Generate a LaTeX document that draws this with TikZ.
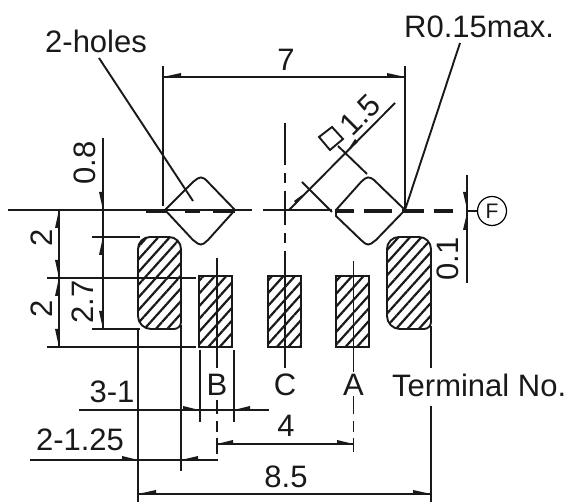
\documentclass[tikz,border=0pt]{standalone}
\usepackage{fontspec}
\setmainfont{Liberation Sans}
\usetikzlibrary{patterns.meta}
\tikzset{
 ln/.style={line width=1.9pt,black!90},
 datum/.style={line width=3.2pt,black!90},
 wedge/.style={fill=black!90,draw=none},
 padshape/.style={line width=1.9pt,black!90,pattern={Lines[angle=48,distance=8.5pt,line width=2.2pt]},pattern color=black!90},
 lab/.style={inner sep=0pt,font=\fontsize{31}{31}\selectfont,text=black!90},
 cen/.style={line width=1.9pt,black!90}
}
\begin{document}
\begin{tikzpicture}[x=1pt,y=-1pt]
\useasboundingbox (0,0) rectangle (574,502);
% pads
\draw[padshape] (138,300) [rounded corners=12pt] -- (138,237) -- (181,237) [rounded corners=7pt] -- (181,329) [rounded corners=13pt] -- (138,329) [sharp corners] -- cycle;
\draw[padshape] (387,300) [rounded corners=12pt] -- (387,237) -- (431,237) [rounded corners=7pt] -- (431,329) [rounded corners=13pt] -- (387,329) [sharp corners] -- cycle;
\draw[padshape] (199,276) rectangle (232,347);
\draw[padshape] (268,276) rectangle (301,347);
\draw[padshape] (336,276) rectangle (369,347);
% horizontal datum
\draw[ln] (8,210) -- (252,210);
\draw[ln] (263,210) -- (332,210);
\foreach \a/\b in {146/167,185/200,213/235,335/354,364/392,402/424,434/453}
  \draw[datum] (\a,211) -- (\b,211);
% holes
\draw[ln] (165,210) -- (193,182) [rounded corners=4pt] -- (201,176) [sharp corners] -- (206,180) -- (235,210) -- (208,240) [rounded corners=4pt] -- (201,246) [sharp corners] -- (193,240) -- cycle;
\draw[ln] (336,210) -- (361,182) [rounded corners=4pt] -- (368,176) [sharp corners] -- (374,180) -- (405,210) -- (376,240) [rounded corners=4pt] -- (368,246) [sharp corners] -- (361,240) -- (336,216) -- cycle;
% dim 7
\draw[ln] (163,66) -- (163,206);
\draw[ln] (405,66) -- (405,210);
\draw[ln] (163,77) -- (405,77);
\fill[wedge] (163,77) -- (181,73) -- (181,77) -- cycle;
\fill[wedge] (405,77) -- (387,73) -- (387,77) -- cycle;
\node[lab] (seven) at (286,60) {7};
% leaders
\draw[ln] (99,58) -- (193,201);
\node[lab,anchor=west] (holes) at (45,41) {2-holes};
\draw[ln] (460,43) -- (405,210);
\node[lab,anchor=west] (rad) at (404,27) {R0.15max.};
% centre lines
\draw[cen] (285,123) -- (285,165) (285,173) -- (285,183) (285,191) -- (285,225) (285,233) -- (285,243) (285,251) -- (285,368);
\draw[cen] (217,258) -- (217,368) (217,400) -- (217,414) (217,421) -- (217,432) (217,438) -- (217,454);
\draw[cen] (353.5,261) -- (353.5,372) (353.5,396) -- (353.5,414) (353.5,421) -- (353.5,432) (353.5,438) -- (353.5,452);
% dim 1.5
\draw[ln] (289,210) -- (395,103);
\draw[ln] (302,182) -- (332,212);
\draw[ln] (338,146) -- (367,174);
\draw[ln] (319,137) -- (332,127) -- (343,139) -- (330,150) -- cycle;
\fill[wedge] (309,190) -- (294,201) -- (296,203.5) -- cycle;
\fill[wedge] (346,153) -- (355,139) -- (358,142) -- cycle;
\node[lab,rotate=45] (dia) at (360,115) {1.5};
% left dims
\draw[ln] (59,210) -- (59,347);
\draw[ln] (47,278) -- (196,278);
\draw[ln] (47,347) -- (196,347);
\draw[ln] (103,138) -- (103,329);
\draw[ln] (92,237) -- (140,237);
\draw[ln] (92,329) -- (140,329);
\fill[wedge] (59,210) -- (55,228) -- (59,228) -- cycle;
\fill[wedge] (59,278) -- (55,260) -- (59,260) -- cycle;
\fill[wedge] (59,278) -- (55,296) -- (59,296) -- cycle;
\fill[wedge] (59,347) -- (55,329) -- (59,329) -- cycle;
\fill[wedge] (103,210) -- (99,192) -- (103,192) -- cycle;
\fill[wedge] (103,237) -- (99,255) -- (103,255) -- cycle;
\fill[wedge] (103,329) -- (99,311) -- (103,311) -- cycle;
\node[lab,rotate=90] (d08) at (85,163) {0.8};
\node[lab,rotate=90] (d2a) at (42,238) {2};
\node[lab,rotate=90] (d2b) at (42,309) {2};
\node[lab,rotate=90] (d27) at (83,302) {2.7};
% extension lines
\draw[ln] (138,329) -- (138,502);
\draw[ln] (181,325) -- (181,471);
\draw[ln] (431,326) -- (431,368);
\draw[ln] (431,406) -- (431,502);
\draw[ln] (200,350) -- (200,422);
\draw[ln] (234,350) -- (234,422);
% 3-1
\draw[ln] (79,410) -- (269,410);
\fill[wedge] (199,410) -- (183,406) -- (183,410) -- cycle;
\fill[wedge] (234,410) -- (250,406) -- (250,410) -- cycle;
\node[lab] (t31) at (112,392) {3-1};
% 2-1.25
\draw[ln] (30,460) -- (218,460);
\fill[wedge] (138,460) -- (122,456) -- (122,460) -- cycle;
\fill[wedge] (181,460) -- (198,456) -- (198,460) -- cycle;
\node[lab] (t125) at (80,440) {2-1.25};
% 4
\draw[ln] (217,444) -- (353.5,444);
\fill[wedge] (217,444) -- (233,440) -- (233,444) -- cycle;
\fill[wedge] (353.5,444) -- (337,440) -- (337,444) -- cycle;
\node[lab] (t4) at (286,426) {4};
% 8.5
\draw[ln] (138,494) -- (431,494);
\fill[wedge] (138,494) -- (156,490) -- (156,494) -- cycle;
\fill[wedge] (431,494) -- (413,490) -- (413,494) -- cycle;
\node[lab] (t85) at (286,477) {8.5};
% 0.1 and F
\draw[ln] (467,175) -- (467,283);
\draw[ln] (467,211) -- (477,211);
\fill[wedge] (467,209) -- (463,192) -- (467,192) -- cycle;
\fill[wedge] (467,213) -- (463,230) -- (467,230) -- cycle;
\node[lab,rotate=90] (t01) at (448,259) {0.1};
\node[draw,circle,line width=1.2pt,minimum size=29pt,inner sep=0pt,font=\fontsize{21}{21}\selectfont,text=black!90] (datF) at (492,211) {F};
% terminal labels
\node[lab] (tB) at (217,385) {B};
\node[lab] (tC) at (285,385) {C};
\node[lab] (tA) at (353.5,385) {A};
\node[lab,anchor=west] (tN) at (392,385) {Terminal No.};
\end{tikzpicture}
\end{document}
